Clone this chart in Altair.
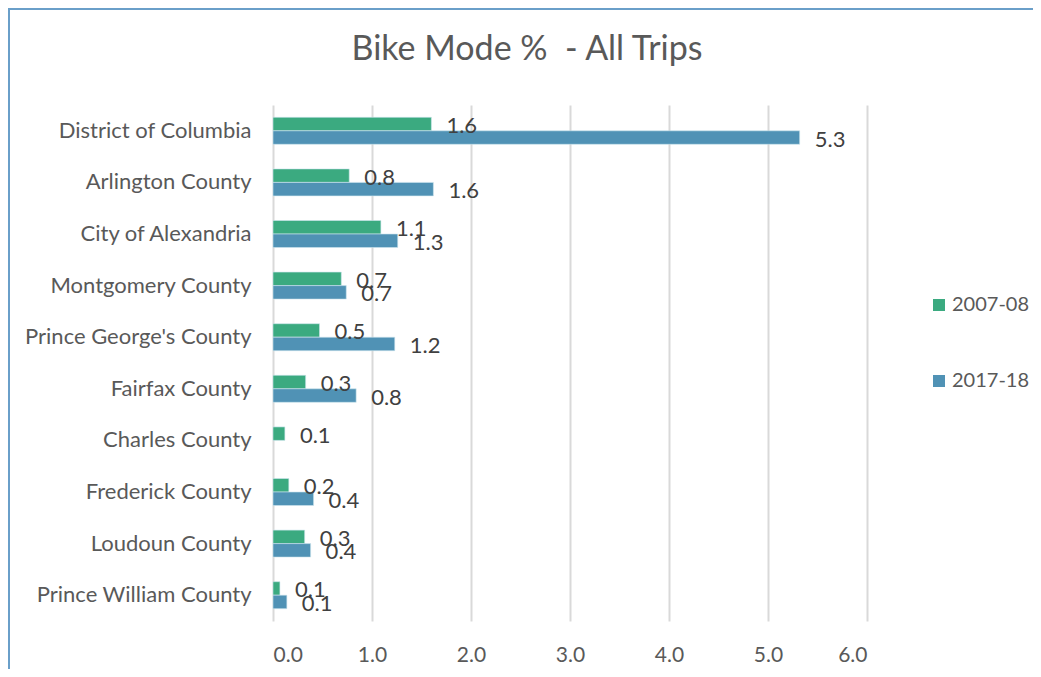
import altair as alt
import pandas as pd

counties = ["District of Columbia", "Arlington County", "City of Alexandria",
            "Montgomery County", "Prince George's County", "Fairfax County",
            "Charles County", "Frederick County", "Loudoun County",
            "Prince William County"]
series_names = ["2007-08", "2017-18"]
v_2007_08 = [1.60, 0.77, 1.09, 0.69, 0.47, 0.33, 0.12, 0.16, 0.32, 0.07]
v_2017_18 = [5.32, 1.62, 1.26, 0.74, 1.23, 0.84, None, 0.41, 0.38, 0.14]
colors = ["#3BAA80", "#5092B5"]
x_ticks = [0, 1, 2, 3, 4, 5, 6]

rows = []
for c, a, b in zip(counties, v_2007_08, v_2017_18):
    if a is not None:
        rows.append({"county": c, "series": series_names[0], "value": a})
    if b is not None:
        rows.append({"county": c, "series": series_names[1], "value": b})
df = pd.DataFrame(rows)

FONT = "Lato"

y_enc = alt.Y("county:N", sort=counties,
              scale=alt.Scale(paddingInner=0.477, paddingOuter=0.2385),
              axis=alt.Axis(title=None, labelFontSize=22, labelColor="#595959",
                            labelPadding=22, ticks=False, domain=False, labelLimit=400,
                            labelFont=FONT, grid=False))
yoff = alt.YOffset("series:N", sort=series_names, scale=alt.Scale(paddingInner=0, paddingOuter=0))
x_enc = alt.X("value:Q", scale=alt.Scale(domain=[0, 6], nice=False),
              axis=alt.Axis(title=None, values=x_ticks, format=".1f", labelFontSize=21,
                            labelColor="#595959", labelPadding=23, ticks=False,
                            domain=False, grid=True, gridColor="#d9d9d9",
                            gridWidth=2, labelFont=FONT))

bars = alt.Chart(df).mark_bar(stroke="#cfe6ee", strokeWidth=0.6).encode(
    y=y_enc, yOffset=yoff, x=x_enc,
    color=alt.Color("series:N", sort=series_names,
                    scale=alt.Scale(domain=series_names, range=colors),
                    legend=alt.Legend(title=None, orient="none", legendX=656, legendY=190,
                                      symbolType="square", symbolSize=144,
                                      symbolStrokeWidth=0, labelFontSize=20,
                                      labelColor="#595959", labelFont=FONT,
                                      labelOffset=3, rowPadding=56, padding=0,
                                      labelLimit=200))
)

labels = alt.Chart(df).mark_text(align="left", baseline="middle", dx=15, dy=2,
                                 fontSize=22, color="#404040", font=FONT).encode(
    y=alt.Y("county:N", sort=counties), yOffset=yoff, x=alt.X("value:Q"),
    text=alt.Text("value:Q", format=".1f")
)

one = alt.Data(values=[{}])
frame_left = alt.Chart(one).mark_rule(stroke="#6A9FC9", strokeWidth=2).encode(
    x=alt.value(-264), y=alt.value(-96), y2=alt.value(700))
frame_top = alt.Chart(one).mark_rule(stroke="#6A9FC9", strokeWidth=2).encode(
    x=alt.value(-265), x2=alt.value(900), y=alt.value(-96))

chart = alt.layer(frame_left, frame_top, bars, labels).properties(
    width=594, height=516,
    title=alt.TitleParams("Bike Mode %\u00a0 - All Trips", fontSize=34, color="#595959",
                          font=FONT, fontWeight="normal", anchor="middle",
                          dx=-43, offset=-86, baseline="alphabetic"),
    autosize=alt.AutoSizeParams(type="none"),
    padding={"left": 265, "top": 97, "right": 166, "bottom": 48},
).configure_view(stroke=None)

chart.save("out.html", embed_options={"renderer": "svg", "actions": False})
